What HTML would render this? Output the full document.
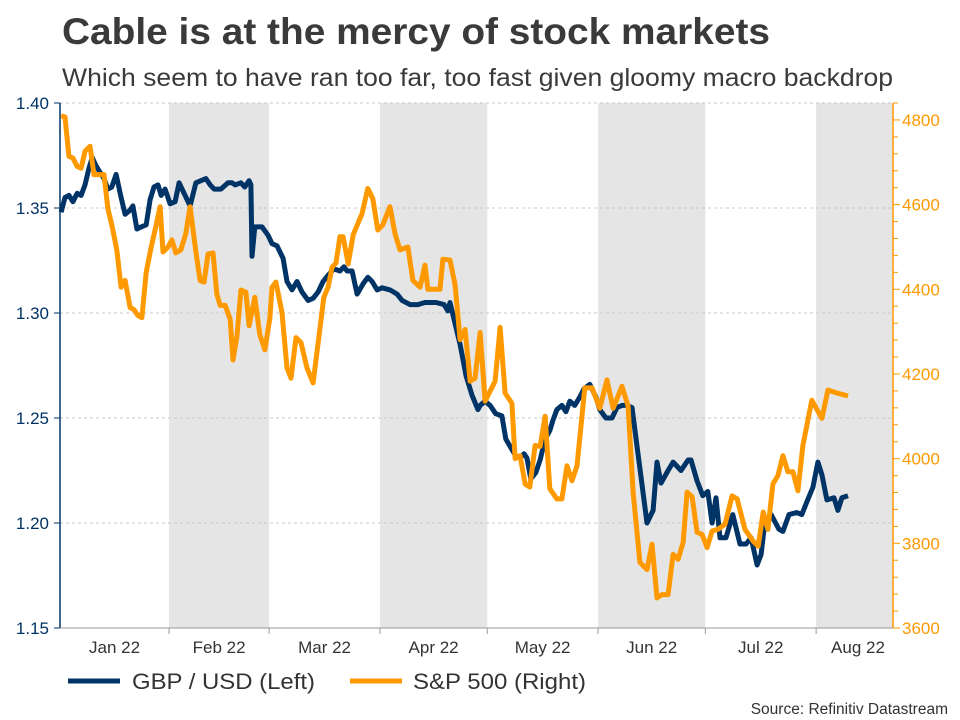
<!DOCTYPE html>
<html><head><meta charset="utf-8"><style>
body{margin:0;background:#fff;font-family:"Liberation Sans",sans-serif;}
svg{display:block}
</style></head><body>
<svg id="chart" width="960" height="720" font-family="Liberation Sans, sans-serif">
<text x="62" y="44" font-size="37" font-weight="bold" fill="#3a3a3a" textLength="708" lengthAdjust="spacingAndGlyphs">Cable is at the mercy of stock markets</text>
<text x="62" y="86" font-size="25" fill="#3a3a3a" textLength="831" lengthAdjust="spacingAndGlyphs">Which seem to have ran too far, too fast given gloomy macro backdrop</text>
<g id="bands"></g><g id="grid"></g><g id="axes"></g><g id="series"></g>
<g>
<line x1="68" y1="681" x2="120" y2="681" stroke="#003366" stroke-width="5"/>
<text x="132" y="689" font-size="22" fill="#333" textLength="183" lengthAdjust="spacingAndGlyphs">GBP / USD (Left)</text>
<line x1="350" y1="681" x2="402" y2="681" stroke="#ff9900" stroke-width="5"/>
<text x="413" y="689" font-size="22" fill="#333" textLength="173" lengthAdjust="spacingAndGlyphs">S&amp;P 500 (Right)</text>
</g>
<text x="948" y="714" font-size="15.5" fill="#333" text-anchor="end">Source: Refinitiv Datastream</text>
</svg>
<script>
const monthLabels=["Jan 22","Feb 22","Mar 22","Apr 22","May 22","Jun 22","Jul 22","Aug 22"];
const monthStarts=[1,32,60,91,121,152,182,213];
const leftTicks=[1.15,1.20,1.25,1.30,1.35,1.40];
const rightTicks=[3600,3800,4000,4200,4400,4600,4800];
const gbpDays=[1.8,2.9,4,5.1,6.3,7.4,8.5,9.6,10.5,11.6,12.7,13.8,14.9,16,17.2,18.6,19.7,21.1,21.9,23,24.2,25.6,26.7,27.8,28.9,29.8,30.9,32.3,33.7,34.8,36.5,37.9,39.5,40.9,42.3,43.5,44.6,46.5,48.5,49.6,50.5,52.1,53.2,54.4,54.9,55.2,56,58,59.7,60.8,62.2,63.9,65,66.4,67.8,69.2,70.9,72.3,73.7,75.1,76.5,78.1,79.8,80.9,81.8,83.2,84.6,86.3,87.6,88.8,90.2,91.6,93.8,95.8,97.2,99.4,101.6,103.6,105.5,106.7,108.9,110,110.6,113.4,115.1,116.7,118.4,119,120.4,121.8,123.4,125.1,126.2,127.9,129,130.2,131.3,132.1,133.2,134.6,135.8,137.2,138.5,139.4,140.5,141.9,143,144.1,145.5,146.9,148.1,149.7,151.4,152.5,154.2,155.9,157.3,158.7,160.1,161.5,165.7,167.4,168.5,169.6,171.6,173,175.2,177.2,178,179.7,181.3,182.7,183.9,185,186.1,187.8,189.7,191.7,193.4,194.8,196.5,197.6,198.7,200.4,202.6,203.7,205.4,207.6,209,210.4,212.1,213.5,214.6,216,218,219.1,220.2,221.9];
const gbpValues=[1.348,1.355,1.356,1.353,1.357,1.356,1.361,1.369,1.374,1.370,1.367,1.364,1.359,1.360,1.366,1.355,1.347,1.349,1.351,1.340,1.341,1.342,1.354,1.360,1.361,1.356,1.359,1.352,1.353,1.362,1.356,1.351,1.362,1.363,1.364,1.361,1.359,1.359,1.362,1.362,1.361,1.362,1.360,1.363,1.361,1.327,1.341,1.341,1.337,1.333,1.332,1.326,1.315,1.311,1.315,1.310,1.306,1.307,1.310,1.315,1.318,1.321,1.320,1.322,1.320,1.320,1.309,1.314,1.317,1.315,1.311,1.312,1.311,1.309,1.306,1.304,1.304,1.305,1.305,1.305,1.304,1.301,1.305,1.285,1.270,1.261,1.254,1.256,1.258,1.256,1.252,1.251,1.240,1.235,1.232,1.231,1.233,1.231,1.221,1.224,1.230,1.240,1.244,1.249,1.254,1.256,1.253,1.258,1.256,1.260,1.264,1.266,1.260,1.254,1.250,1.250,1.255,1.256,1.256,1.255,1.200,1.206,1.229,1.219,1.225,1.229,1.225,1.230,1.230,1.220,1.213,1.215,1.200,1.212,1.193,1.193,1.204,1.190,1.190,1.193,1.180,1.185,1.201,1.204,1.197,1.196,1.204,1.205,1.204,1.210,1.217,1.229,1.223,1.211,1.212,1.206,1.212,1.213];
const spxDays=[1.8,2.9,4,5.1,6.3,7.4,8.5,9.9,11,12.4,13.8,14.9,16,17.4,18.6,19.7,21.1,22.2,23.3,24.4,25.6,27,28.4,29.5,30.3,31.7,32.8,33.9,35.3,36.7,37.9,39.5,40.7,41.8,42.9,44.3,45.4,46.3,47.7,49.1,49.9,51,52.1,53.5,54.4,56,57.4,58.8,60.2,60.8,61.9,63.6,65,66.1,67.5,68.9,70.6,72.3,73.9,75.3,76.5,77.6,78.7,79.8,80.7,82.1,83.5,86,87.6,89,90.4,91.8,93.8,95.2,96.6,98.8,100.2,102.2,103.6,104.4,107.8,108.6,110.6,112,113.4,114.8,116.2,117.6,119,120.4,123.2,124.6,126,127.9,128.8,130.2,131.6,132.9,134.4,135.8,137.2,138.5,140.5,141.9,143.3,144.7,146.1,148.3,150.3,152.5,154.5,156.2,158.7,160.4,161.8,163.7,165.7,167.1,168.5,169.9,171.6,173,174.4,175.8,176.9,178.3,179.7,181.1,182.5,183.9,185.5,187.5,189.5,190.9,193.1,195.4,196.8,198.2,199.5,200.9,202.3,203.7,205.1,206.5,207.9,209.3,211.8,214.6,216.3,218.8,221.9];
const spxValues=[4810,4807,4714,4710,4690,4686,4726,4738,4671,4671,4671,4590,4552,4493,4405,4421,4357,4352,4338,4333,4440,4500,4552,4595,4488,4500,4517,4486,4493,4531,4595,4488,4421,4417,4483,4486,4388,4362,4362,4329,4233,4290,4398,4393,4314,4381,4293,4257,4333,4405,4417,4345,4214,4190,4286,4274,4214,4179,4286,4381,4405,4452,4462,4524,4524,4460,4529,4579,4638,4614,4540,4552,4595,4531,4493,4500,4421,4405,4457,4400,4400,4471,4469,4412,4281,4305,4183,4190,4298,4136,4183,4310,4155,4131,4000,4007,3940,3933,4031,4029,4100,3929,3905,3905,3983,3948,3983,4167,4167,4119,4186,4119,4171,4124,3921,3755,3738,3798,3671,3679,3679,3774,3762,3802,3921,3910,3826,3821,3790,3829,3833,3845,3912,3905,3833,3805,3793,3874,3833,3940,3960,4007,3969,3969,3924,4031,4138,4095,4162,4155,4148];

const X0=60,X1=893,YT=103,YB=628;
const D0=1.5,D1=234.5;
const x=d=>X0+(d-D0)/(D1-D0)*(X1-X0);
const yL=v=>YB-(v-1.15)/(1.40-1.15)*(YB-YT);
const yR=v=>YB-(v-3600)/(4840-3600)*(YB-YT);
const NS="http://www.w3.org/2000/svg";
function mk(p,tag,at){const e=document.createElementNS(NS,tag);for(const k in at)e.setAttribute(k,at[k]);p.appendChild(e);return e;}
const bands=document.getElementById('bands'),grid=document.getElementById('grid'),axes=document.getElementById('axes'),series=document.getElementById('series');
const bounds=monthStarts.concat([D1]);
for(let i=1;i<monthStarts.length;i+=2){
 const a=x(bounds[i]),b=Math.min(x(bounds[i+1]),X1);
 const r=mk(bands,'rect',{x:a,y:YT,width:b-a,height:YB-YT,fill:'#e5e5e5'});
 
 
}
leftTicks.forEach(t=>{
 const yy=yL(t);
 if(t>1.15){const g=mk(grid,'line',{x1:X0,x2:X1,y1:yy,y2:yy,stroke:'#c8c8c8','stroke-dasharray':'3,3'});
 
 }
 mk(axes,'line',{x1:X0-6,x2:X0,y1:yy,y2:yy,stroke:'#003366'});
 const tx=mk(axes,'text',{x:X0-11,y:yy+6,'font-size':17,fill:'#003366','text-anchor':'end'});tx.textContent=t.toFixed(2);
 
 
});
for(let v=3600;v<=4840;v+=40){const yy=yR(v);mk(axes,'line',{x1:X1,x2:X1+(v%200===0?7:5),y1:yy,y2:yy,stroke:'#ff9900'});}
rightTicks.forEach(t=>{
 const tx=mk(axes,'text',{x:X1+9,y:yR(t)+6,'font-size':17,fill:'#ff9900'});tx.textContent=t;
 
 
});
const la=mk(axes,'line',{x1:X0,x2:X0,y1:YT,y2:YB,stroke:'#003366','stroke-width':1.5});


const ra=mk(axes,'line',{x1:X1,x2:X1,y1:YT,y2:YB,stroke:'#ff9900','stroke-width':1.5});


const ba=mk(axes,'line',{x1:X0,x2:X1,y1:YB,y2:YB,stroke:'#999'});


monthLabels.forEach((m,i)=>{
 const a=x(bounds[i]);
 if(i>0)mk(axes,'line',{x1:a,x2:a,y1:YB,y2:YB+6,stroke:'#999'});
 let cx=(Math.max(a,X0)+x(bounds[i+1]))/2; if(i===7)cx=858;
 const tx=mk(axes,'text',{x:cx,y:653,'font-size':17,fill:'#333','text-anchor':'middle'});tx.textContent=m;
 
 
});
function path(days,vals,sy){return days.map((d,i)=>(i?'L':'M')+x(d).toFixed(1)+','+sy(vals[i]).toFixed(1)).join('');}
const p1=mk(series,'path',{d:path(gbpDays,gbpValues,yL),fill:'none',stroke:'#003366','stroke-width':5,'stroke-linejoin':'round'});


const p2=mk(series,'path',{d:path(spxDays,spxValues,yR),fill:'none',stroke:'#ff9900','stroke-width':5,'stroke-linejoin':'round'});


</script>
</body></html>
